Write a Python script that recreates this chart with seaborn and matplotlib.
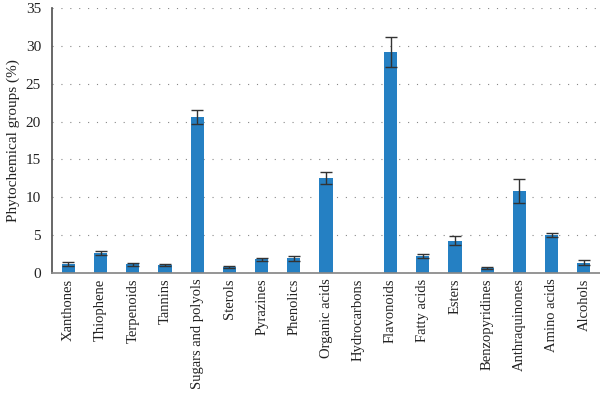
import matplotlib
matplotlib.use("Agg")
import matplotlib.pyplot as plt
import numpy as np
import pandas as pd
import seaborn as sns

categories = [
    "Xanthones", "Thiophene", "Terpenoids", "Tannins", "Sugars and polyols",
    "Sterols", "Pyrazines", "Phenolics", "Organic acids", "Hydrocarbons",
    "Flavonoids", "Fatty acids", "Esters", "Benzopyridines", "Anthraquinones",
    "Amino acids", "Alcohols",
]
values = [1.2, 2.65, 1.15, 1.05, 20.6, 0.82, 1.8, 1.95, 12.6, 0.0,
          29.15, 2.25, 4.3, 0.65, 10.85, 5.05, 1.4]
errors = [0.3, 0.3, 0.2, 0.15, 0.95, 0.08, 0.25, 0.35, 0.8, np.nan,
          1.95, 0.3, 0.6, 0.1, 1.55, 0.3, 0.3]

df = pd.DataFrame({"group": categories, "pct": values, "err": errors})

sns.set_theme(style="white")
plt.rcParams["font.family"] = ["Liberation Serif", "DejaVu Serif"]

fig = plt.figure(figsize=(6, 3.93), dpi=100)
ax = fig.add_axes([0.087, 0.305, 0.913, 0.675])

sns.barplot(data=df, x="group", y="pct", color="#2580c3", saturation=1,
            width=0.41, linewidth=0, ax=ax, zorder=2)
ok = df["err"].notna()
ax.errorbar(np.arange(len(categories))[ok], df["pct"][ok], yerr=df["err"][ok], fmt="none",
            ecolor="#333333", elinewidth=1.0, capsize=4, capthick=1.0, zorder=3)

ax.set_ylim(0, 35)
ax.set_xlim(-0.5, len(categories) - 0.5)
ax.set_yticks(range(0, 36, 5))
ax.yaxis.grid(True, linestyle=(0, (1, 7)), color="#888888", linewidth=0.8, zorder=0)
ax.set_axisbelow(True)
ax.set_xlabel("")
ax.set_ylabel("Phytochemical groups (%)", fontsize=11, color="#222222")
ax.tick_params(axis="x", labelrotation=90, labelsize=10.5, colors="#222222", length=0, pad=4)
ax.tick_params(axis="y", labelsize=11, colors="#222222", length=0, pad=8)
for s in ["top", "right"]:
    ax.spines[s].set_visible(False)
ax.spines["left"].set_color("#555555")
ax.spines["bottom"].set_color("#888888")

fig.savefig("out.png", dpi=100)
